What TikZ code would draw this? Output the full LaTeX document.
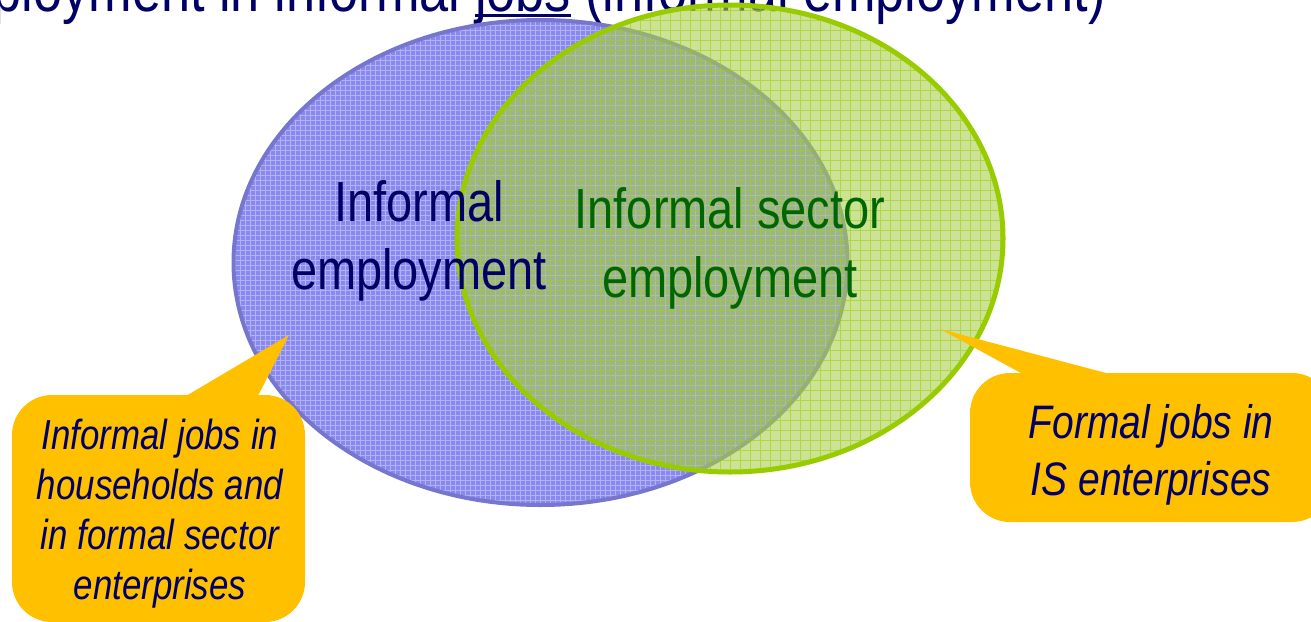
\documentclass[tikz,border=0pt]{standalone}
\usepackage{fontspec}
\setmainfont{Liberation Sans}[FakeStretch=0.83]
\usetikzlibrary{positioning}

\definecolor{titlecolor}{RGB}{0,0,102}
\definecolor{sectorcolor}{RGB}{0,102,0}
\definecolor{bluefillcolor}{RGB}{136,136,238}
\definecolor{bluelinecolor}{RGB}{118,118,206}
\definecolor{greenfillcolor}{RGB}{170,208,80}
\definecolor{greenlinecolor}{RGB}{153,204,0}
\definecolor{calloutcolor}{RGB}{255,192,0}

\newcommand{\jobsline}[1]{{\setbox0\hbox{#1}\rlap{\rule[-3pt]{\wd0}{1.5pt}}\box0}}

\begin{document}
\begin{tikzpicture}[x=0.5pt,y=-0.5pt,
  titletext/.style={text=titlecolor,font=\fontsize{31.5pt}{38pt}\selectfont,inner sep=0pt},
  bluetext/.style={text=titlecolor,align=center,font=\fontsize{28.3pt}{34pt}\selectfont,inner sep=0pt},
  greentext/.style={text=sectorcolor,align=center,font=\fontsize{28.3pt}{34.5pt}\selectfont,inner sep=0pt},
  calloutbox/.style={fill=calloutcolor,rounded corners=20pt,inner sep=0pt},
  callouttext/.style={text=titlecolor,align=center,inner sep=0pt},
  bluegrid/.style={white,opacity=0.35,line width=0.4pt,step=2.5pt},
  greengrid/.style={greenlinecolor,opacity=0.55,line width=0.5pt,step=5pt}]
\useasboundingbox (0,0) rectangle (1311,621);
\coordinate (bc) at (540.5,262.5);
\coordinate (gc) at (730,238.5);
\coordinate (ltip) at (289,335);
\coordinate (rtip) at (940,329);
% title, cut at the top
\node[titletext,anchor=base east] (title) at (1106,11) {Employment in informal \jobsline{jobs} (informal employment)};
% informal employment
\fill[bluefillcolor] (bc) ellipse [x radius=153.5pt,y radius=121.25pt];
\begin{scope}
\clip (bc) ellipse [x radius=153.5pt,y radius=121.25pt];
\draw[bluegrid] (225,15) grid (855,510);
\end{scope}
\draw[bluelinecolor,line width=2pt] (bc) ellipse [x radius=153.5pt,y radius=121.25pt];
% informal sector employment
\fill[greenfillcolor,fill opacity=0.6] (gc) ellipse [x radius=136.5pt,y radius=116.75pt];
\begin{scope}
\clip (gc) ellipse [x radius=136.5pt,y radius=116.75pt];
\draw[greengrid] (450,0) grid (1010,480);
\end{scope}
\draw[greenlinecolor,line width=2.5pt] (gc) ellipse [x radius=136.5pt,y radius=116.75pt];
\node[bluetext] (infemp) at (419,241) {Informal\\employment};
\node[greentext] (secemp) at (730,248) {Informal sector\\employment};
% callouts
\node[calloutbox,minimum width=146.5pt,minimum height=113.5pt] (lbox) at (158.5,508.5) {};
\fill[calloutcolor] ([xshift=85pt,yshift=-2pt]lbox.north west) -- (ltip)
  -- ([xshift=122.5pt,yshift=-2pt]lbox.north west) -- cycle;
\node[callouttext,font=\fontsize{21pt}{25pt}\selectfont\itshape] (ltext)
  at ([xshift=0.75pt,yshift=-2.5pt]lbox.center)
  {Informal jobs in\\households and\\in formal sector\\enterprises};
\node[calloutbox,minimum width=181pt,minimum height=74.5pt] (rbox) at (1151,447.5) {};
\fill[calloutcolor] ([xshift=29pt,yshift=-2pt]rbox.north west) -- (rtip)
  -- ([xshift=75pt,yshift=-2pt]rbox.north west) -- cycle;
\node[callouttext,font=\fontsize{23.5pt}{28.5pt}\selectfont\itshape] (rtext)
  at ([yshift=-3.5pt]rbox.center) {Formal jobs in\\IS enterprises};
\end{tikzpicture}
\end{document}
